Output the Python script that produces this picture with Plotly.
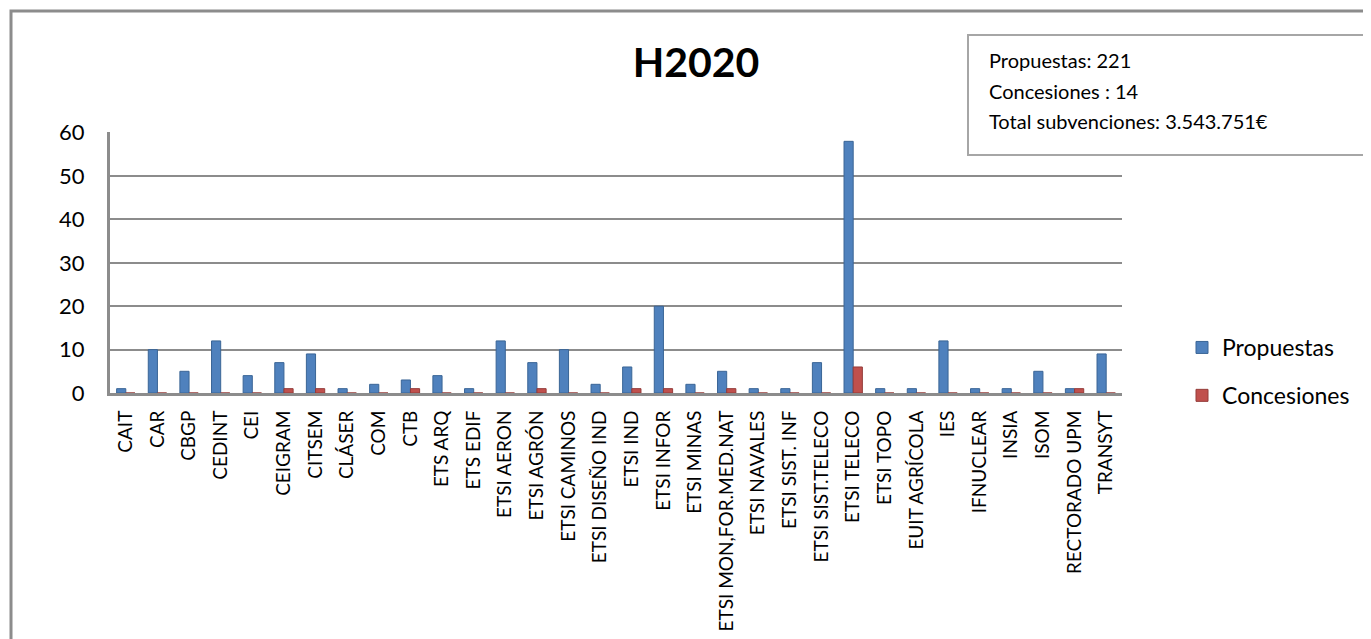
import plotly.graph_objects as go

categorias = ["CAIT", "CAR", "CBGP", "CEDINT", "CEI", "CEIGRAM", "CITSEM", "CLÁSER", "COM", "CTB",
              "ETS ARQ", "ETS EDIF", "ETSI AERON", "ETSI AGRÓN", "ETSI CAMINOS", "ETSI DISEÑO IND",
              "ETSI IND", "ETSI INFOR", "ETSI MINAS", "ETSI MON,FOR.MED.NAT", "ETSI NAVALES",
              "ETSI SIST. INF", "ETSI SIST.TELECO", "ETSI TELECO", "ETSI TOPO", "EUIT AGRÍCOLA",
              "IES", "IFNUCLEAR", "INSIA", "ISOM", "RECTORADO UPM", "TRANSYT"]
propuestas = [1, 10, 5, 12, 4, 7, 9, 1, 2, 3,
              4, 1, 12, 7, 10, 2,
              6, 20, 2, 5, 1,
              1, 7, 58, 1, 1,
              12, 1, 1, 5, 1, 9]
concesiones = [0, 0, 0, 0, 0, 1, 1, 0, 0, 1,
               0, 0, 0, 1, 0, 0,
               1, 1, 0, 1, 0,
               0, 0, 6, 0, 0,
               0, 0, 0, 0, 1, 0]
y_ticks = [0, 10, 20, 30, 40, 50, 60]
titulo = "H2020"
resumen = ["Propuestas: 221", "Concesiones : 14", "Total subvenciones: 3.543.751€"]

W, H = 1371, 639
OFF = 8  # page body margin
L, R, T, B = 110, 1122, 132, 393  # plot area in page pixels
def px(x):
    return (x - L) / (R - L)
def py(y):
    return (B - y) / (B - T)

FONT = "Lato"

fig = go.Figure()
fig.add_trace(go.Bar(x=categorias, y=propuestas, name="Propuestas", marker_color="#4F81BD",
                     marker_line=dict(color="#3A6596", width=1), legendgroup="a"))
fig.add_trace(go.Bar(x=categorias, y=concesiones, name="Concesiones", marker_color="#C0504D",
                     marker_line=dict(color="#943B39", width=1), legendgroup="b"))

fig.update_layout(
    width=W, height=H,
    margin=dict(l=L - OFF, r=W - (R - OFF), t=T - OFF, b=H - (B - OFF), pad=0),
    paper_bgcolor="white", plot_bgcolor="white",
    font=dict(family=FONT, color="#000000"),
    barmode="group", bargap=0.42, bargroupgap=0.0,
    showlegend=True,
    legend=dict(x=px(1182), y=py(326), xanchor="left", yanchor="top",
                font=dict(size=23, family=FONT), tracegroupgap=15,
                itemwidth=30, bgcolor="rgba(0,0,0,0)"),
    title=dict(text="<b>" + titulo + "</b>", x=px(696), xref="paper", xanchor="center",
               y=1 - (63 - OFF) / H, yanchor="middle", font=dict(size=41, family=FONT)),
)
fig.update_yaxes(range=[0, 60.15], tickvals=y_ticks, showgrid=True, gridcolor="#8C8C8C", gridwidth=2,
                 zeroline=False, showline=True, linecolor="#8C8C8C", linewidth=3,
                 tickfont=dict(size=22, family=FONT), ticks="", ticklabelstandoff=18)
fig.update_xaxes(tickangle=-90, tickfont=dict(size=19, family=FONT), showline=True,
                 linecolor="#8C8C8C", linewidth=3, ticks="", ticklabelstandoff=7)

# summary box
fig.add_shape(type="rect", xref="paper", yref="paper",
              x0=px(968), x1=px(1368), y0=py(155), y1=py(35),
              line=dict(color="#A6A6A6", width=2), fillcolor="white", layer="above")
for i, linea in enumerate(resumen):
    fig.add_annotation(xref="paper", yref="paper", x=px(987), y=py(60 + 30.5 * i),
                       xanchor="left", yanchor="middle", text=linea, showarrow=False, align="left",
                       font=dict(size=20, family=FONT, color="#000000"))
# outer chart border
fig.add_shape(type="rect", xref="paper", yref="paper",
              x0=px(11), x1=px(1400), y0=py(700), y1=py(11),
              line=dict(color="#8C8C8C", width=3), fillcolor="rgba(0,0,0,0)", layer="below")

fig.write_html("out.html")
